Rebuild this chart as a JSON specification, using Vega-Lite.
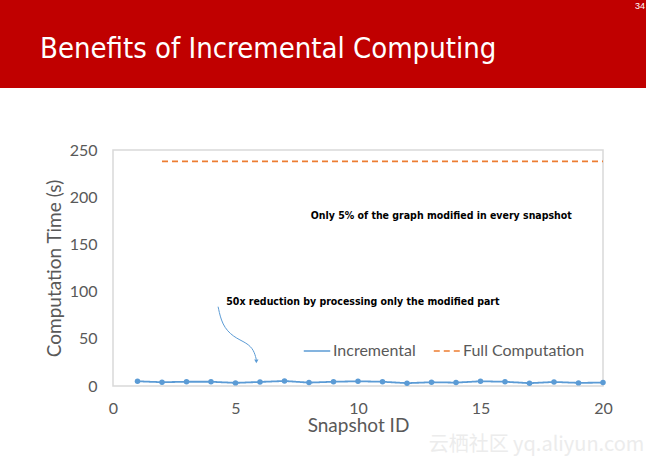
{
  "$schema": "https://vega.github.io/schema/vega-lite/v6.json",
  "padding": 0,
  "background": "white",
  "spacing": 53,
  "config": {"font": "Lato", "view": {"stroke": null}},
  "datasets": {
    "series": [
      {"id": 1, "series": "Incremental", "time": 5},
      {"id": 2, "series": "Incremental", "time": 4},
      {"id": 3, "series": "Incremental", "time": 4.5},
      {"id": 4, "series": "Incremental", "time": 4.5},
      {"id": 5, "series": "Incremental", "time": 3.3},
      {"id": 6, "series": "Incremental", "time": 4.3},
      {"id": 7, "series": "Incremental", "time": 5.3},
      {"id": 8, "series": "Incremental", "time": 3.6},
      {"id": 9, "series": "Incremental", "time": 4.5},
      {"id": 10, "series": "Incremental", "time": 5},
      {"id": 11, "series": "Incremental", "time": 4.5},
      {"id": 12, "series": "Incremental", "time": 3},
      {"id": 13, "series": "Incremental", "time": 4},
      {"id": 14, "series": "Incremental", "time": 3.6},
      {"id": 15, "series": "Incremental", "time": 5},
      {"id": 16, "series": "Incremental", "time": 4.5},
      {"id": 17, "series": "Incremental", "time": 3},
      {"id": 18, "series": "Incremental", "time": 4.3},
      {"id": 19, "series": "Incremental", "time": 3.3},
      {"id": 20, "series": "Incremental", "time": 3.6},
      {"id": 2, "series": "Full Computation", "time": 238},
      {"id": 3, "series": "Full Computation", "time": 238},
      {"id": 4, "series": "Full Computation", "time": 238},
      {"id": 5, "series": "Full Computation", "time": 238},
      {"id": 6, "series": "Full Computation", "time": 238},
      {"id": 7, "series": "Full Computation", "time": 238},
      {"id": 8, "series": "Full Computation", "time": 238},
      {"id": 9, "series": "Full Computation", "time": 238},
      {"id": 10, "series": "Full Computation", "time": 238},
      {"id": 11, "series": "Full Computation", "time": 238},
      {"id": 12, "series": "Full Computation", "time": 238},
      {"id": 13, "series": "Full Computation", "time": 238},
      {"id": 14, "series": "Full Computation", "time": 238},
      {"id": 15, "series": "Full Computation", "time": 238},
      {"id": 16, "series": "Full Computation", "time": 238},
      {"id": 17, "series": "Full Computation", "time": 238},
      {"id": 18, "series": "Full Computation", "time": 238},
      {"id": 19, "series": "Full Computation", "time": 238},
      {"id": 20, "series": "Full Computation", "time": 238}
    ],
    "notes": [
      {"x": 13.4, "y": 180, "label": "Only 5% of the graph modified in every snapshot"},
      {"x": 10.2, "y": 89, "label": "50x reduction by processing only the modified part"}
    ],
    "arrow": [
      {"k": 1, "x": 4.29, "y": 84},
      {"k": 2, "x": 4.45, "y": 64.6},
      {"k": 3, "x": 4.9, "y": 51.9},
      {"k": 4, "x": 5.47, "y": 45.6},
      {"k": 5, "x": 5.75, "y": 38.1},
      {"k": 6, "x": 5.85, "y": 28}
    ],
    "arrowhead": [{"x": 5.85, "y": 26}]
  },
  "vconcat": [
    {
      "width": 646,
      "height": 88,
      "view": {"fill": "#c00000", "stroke": null},
      "title": {
        "text": "Benefits of Incremental Computing",
        "orient": "top",
        "anchor": "start",
        "frame": "group",
        "offset": -87,
        "baseline": "alphabetic",
        "dx": 40,
        "font": "DejaVu Sans Condensed, Roboto, sans-serif",
        "fontSize": 29,
        "fontWeight": "normal",
        "color": "white"
      },
      "data": {"values": [{"page": "34"}]},
      "mark": {"type": "text", "align": "right", "baseline": "top", "dx": -1, "dy": 2, "fontSize": 9, "color": "white", "font": "Liberation Sans"},
      "encoding": {
        "x": {"value": "width"},
        "y": {"value": 0},
        "text": {"field": "page"}
      }
    },
    {
      "spacing": 0,
      "hconcat": [
        {
          "width": 44,
          "height": 10,
          "view": {"stroke": null},
          "data": {"values": []},
          "mark": "point",
          "encoding": {}
        },
        {
          "width": 490,
          "height": 236,
          "view": {"stroke": "#d9d9d9", "strokeWidth": 1.5},
          "title": {
            "text": "云栖社区 yq.aliyun.com",
            "orient": "bottom",
            "anchor": "end",
            "dx": 32,
            "offset": 0,
            "fontSize": 20,
            "fontWeight": "normal",
            "color": "#ececec",
            "font": "Noto Sans CJK SC"
          },
          "layer": [
            {
              "data": {"name": "series"},
              "mark": {"type": "line", "strokeWidth": 1.8},
              "encoding": {
                "x": {
                  "field": "id", "type": "quantitative",
                  "scale": {"domain": [0, 20], "nice": false},
                  "axis": {
                    "values": [0, 5, 10, 15, 20], "title": "Snapshot ID",
                    "grid": false, "ticks": false, "domain": false, "labelFlush": false,
                    "labelFontSize": 16, "labelColor": "#595959", "labelPadding": 14,
                    "titleFontSize": 19, "titleFontWeight": "normal", "titleColor": "#595959", "titlePadding": 0
                  }
                },
                "y": {
                  "field": "time", "type": "quantitative",
                  "scale": {"domain": [0, 250], "nice": false},
                  "axis": {
                    "values": [0, 50, 100, 150, 200, 250], "title": "Computation Time (s)",
                    "grid": false, "ticks": false, "domain": false,
                    "labelFontSize": 16, "labelColor": "#595959", "labelPadding": 16,
                    "titleFontSize": 19, "titleFontWeight": "normal", "titleColor": "#595959", "titlePadding": 5
                  }
                },
                "color": {
                  "field": "series", "type": "nominal",
                  "scale": {"domain": ["Incremental", "Full Computation"], "range": ["#5b9bd5", "#ed7d31"]},
                  "legend": {
                    "title": null, "orient": "none", "legendX": 303, "legendY": 337,
                    "direction": "horizontal", "symbolType": "stroke", "symbolSize": 700,
                    "symbolStrokeWidth": 1.5, "labelFontSize": 16, "labelColor": "#595959",
                    "columnPadding": 14, "labelOffset": 2
                  }
                },
                "strokeDash": {
                  "field": "series", "type": "nominal",
                  "scale": {"domain": ["Incremental", "Full Computation"], "range": [[1, 0], [6, 4]]},
                  "legend": null
                }
              }
            },
            {
              "data": {"name": "series"},
              "transform": [{"filter": "datum.series === 'Incremental'"}],
              "mark": {"type": "point", "filled": true, "opacity": 1, "size": 30, "color": "#5b9bd5"},
              "encoding": {
                "x": {"field": "id", "type": "quantitative"},
                "y": {"field": "time", "type": "quantitative"}
              }
            },
            {
              "data": {"name": "notes"},
              "mark": {"type": "text", "font": "DejaVu Sans Condensed, Roboto, sans-serif", "fontWeight": "bold", "fontSize": 10.5, "color": "black"},
              "encoding": {
                "x": {"field": "x", "type": "quantitative"},
                "y": {"field": "y", "type": "quantitative"},
                "text": {"field": "label"}
              }
            },
            {
              "data": {"name": "arrow"},
              "mark": {"type": "line", "interpolate": "basis", "strokeWidth": 1, "color": "#5b9bd5"},
              "encoding": {
                "x": {"field": "x", "type": "quantitative"},
                "y": {"field": "y", "type": "quantitative"},
                "order": {"field": "k"}
              }
            },
            {
              "data": {"name": "arrowhead"},
              "mark": {"type": "point", "shape": "triangle-down", "filled": true, "opacity": 1, "size": 18, "color": "#5b9bd5"},
              "encoding": {
                "x": {"field": "x", "type": "quantitative"},
                "y": {"field": "y", "type": "quantitative"}
              }
            }
          ]
        }
      ]
    }
  ]
}
